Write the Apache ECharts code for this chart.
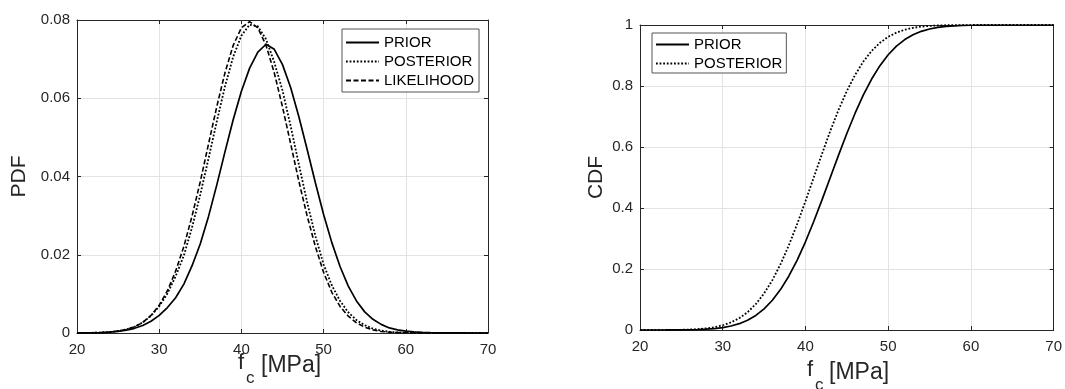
<!DOCTYPE html>
<html>
<head>
<meta charset="utf-8">
<script src="https://cdn.jsdelivr.net/npm/echarts@6/dist/echarts.min.js"></script>
<style>
  html, body { margin: 0; padding: 0; background: #fff; }
  #chart { width: 1065px; height: 389px; }
</style>
</head>
<body>
<div id="chart"></div>
<script>
// f_c values [MPa]
const fc = [20, 21, 22, 23, 24, 25, 26, 27, 28, 29, 30, 31, 32, 33, 34, 35, 36, 37, 38, 39, 40,
  41, 42, 43, 44, 45, 46, 47, 48, 49, 50, 51, 52, 53, 54, 55, 56, 57, 58, 59, 60,
  61, 62, 63, 64, 65, 66, 67, 68, 69, 70];

// PDF curves
const priorPdf = [0.00001, 0.00002, 0.00005, 0.0001, 0.0002, 0.0004, 0.0007, 0.0012, 0.0019, 0.0030, 0.0045,
  0.0065, 0.0090, 0.0125, 0.0172, 0.0228, 0.0298, 0.0378, 0.0463, 0.0545, 0.0618,
  0.0677, 0.0718, 0.0738, 0.0725, 0.0686, 0.0627, 0.0552, 0.0469, 0.0384, 0.0303,
  0.0231, 0.0170, 0.0120, 0.0082, 0.0054, 0.0035, 0.0022, 0.0013, 0.0008, 0.0005,
  0.0003, 0.00015, 0.00008, 0.00004, 0.00002, 0.00001, 0.00001, 0, 0, 0];
const posteriorPdf = [0.00001, 0.00003, 0.00006, 0.00013, 0.00026, 0.0005, 0.0009, 0.0016, 0.0027, 0.0044, 0.0068,
  0.0101, 0.0145, 0.0198, 0.0270, 0.0354, 0.0446, 0.0540, 0.0630, 0.0706, 0.0760,
  0.0788, 0.0784, 0.0751, 0.0692, 0.0620, 0.0528, 0.0430, 0.0334, 0.0248, 0.0175,
  0.0122, 0.0082, 0.0053, 0.0033, 0.0020, 0.0011, 0.0006, 0.0003, 0.00015, 0.00008,
  0.00004, 0.00002, 0.00001, 0, 0, 0, 0, 0, 0, 0];
const likelihoodPdf = [0.00001, 0.00003, 0.00006, 0.00012, 0.00025, 0.0005, 0.0009, 0.0016, 0.0027, 0.0045, 0.0071,
  0.0108, 0.0158, 0.0221, 0.0299, 0.0387, 0.0483, 0.0578, 0.0665, 0.0735, 0.0780,
  0.0796, 0.0780, 0.0735, 0.0665, 0.0578, 0.0483, 0.0387, 0.0299, 0.0221, 0.0155,
  0.0104, 0.0068, 0.0043, 0.0026, 0.0015, 0.0008, 0.0004, 0.0002, 0.0001, 0.00005,
  0.00003, 0.00001, 0, 0, 0, 0, 0, 0, 0, 0];

// CDF curves
const priorCdf = [0.00001, 0.00002, 0.00005, 0.0001, 0.0002, 0.0004, 0.0008, 0.0015, 0.0027, 0.0048, 0.0080,
  0.0132, 0.0207, 0.0322, 0.0478, 0.0693, 0.0975, 0.1333, 0.1772, 0.2294, 0.2892,
  0.3557, 0.4266, 0.5000, 0.5734, 0.6443, 0.7108, 0.7706, 0.8228, 0.8667, 0.9025,
  0.9307, 0.9522, 0.9678, 0.9793, 0.9868, 0.9920, 0.9952, 0.9973, 0.9985, 0.9992,
  0.9996, 0.9998, 0.9999, 1, 1, 1, 1, 1, 1, 1];
const posteriorCdf = [0.00002, 0.00004, 0.0001, 0.0002, 0.0004, 0.0008, 0.0016, 0.0030, 0.0054, 0.0093, 0.0155,
  0.0249, 0.0388, 0.0583, 0.0849, 0.1198, 0.1635, 0.2165, 0.2782, 0.3475, 0.4223,
  0.5000, 0.5777, 0.6525, 0.7218, 0.7835, 0.8365, 0.8802, 0.9151, 0.9417, 0.9612,
  0.9751, 0.9845, 0.9907, 0.9946, 0.9970, 0.9984, 0.9992, 0.9996, 0.9998, 0.9999,
  1, 1, 1, 1, 1, 1, 1, 1, 1, 1];

const pdfTicks = ['0', '0.02', '0.04', '0.06', '0.08'];
const cdfTicks = ['0', '0.2', '0.4', '0.6', '0.8', '1'];

const FONT = 'Liberation Sans, Arial, sans-serif';
const INK = '#262626';
const GRIDLINE = '#e3e3e3';

const pairs = (ys) => fc.map((x, i) => [x, ys[i]]);

function xAx(gridIndex, top) {
  return {
    type: 'value', gridIndex: gridIndex, min: 20, max: 70, interval: 10,
    position: top ? 'top' : 'bottom',
    axisLine: { show: true, onZero: false, lineStyle: { color: INK, width: 1 } },
    axisTick: { show: true, inside: true, length: 4, lineStyle: { color: INK } },
    axisLabel: { show: !top, color: INK, fontSize: 15, fontFamily: FONT, margin: 9 },
    splitLine: { show: !top, lineStyle: { color: GRIDLINE, width: 1 } }
  };
}

function yAx(gridIndex, right, max, interval, labels, name, gap) {
  return {
    type: 'value', gridIndex: gridIndex, min: 0, max: max, interval: interval,
    position: right ? 'right' : 'left',
    name: right ? '' : name,
    nameLocation: 'middle', nameGap: gap,
    nameTextStyle: { color: INK, fontSize: 21, fontFamily: FONT },
    axisLine: { show: true, onZero: false, lineStyle: { color: INK, width: 1 } },
    axisTick: { show: true, inside: true, length: 4, lineStyle: { color: INK } },
    axisLabel: {
      show: !right, color: INK, fontSize: 15, fontFamily: FONT, margin: 7,
      formatter: (v) => labels[Math.round(v / interval)]
    },
    splitLine: { show: !right, lineStyle: { color: GRIDLINE, width: 1 } }
  };
}

const solid = { color: '#000', width: 1.7, type: 'solid' };
const dotted = { color: '#000', width: 1.8, type: [1.8, 1.8] };
const dashed = { color: '#000', width: 1.6, type: [5, 2.5] };

function line(name, data, xi, yi, style) {
  return {
    name: name, type: 'line', xAxisIndex: xi, yAxisIndex: yi,
    data: pairs(data), showSymbol: false, symbol: 'none', smooth: false,
    lineStyle: style, itemStyle: { color: '#000' }, animation: false, z: 5
  };
}

const legendText = { color: '#000', fontSize: 15, fontFamily: FONT };

function legendBox(names, left, top, pad) {
  return {
    data: names,
    orient: 'vertical', left: left, top: top,
    itemWidth: 33, itemHeight: 15, itemGap: 4,
    padding: pad,
    itemStyle: { opacity: 0 },
    borderColor: '#555', borderWidth: 1, backgroundColor: '#fff',
    textStyle: legendText, selectedMode: false
  };
}

let myChart = echarts.init(document.getElementById('chart'));
let option = {
  backgroundColor: '#fff',
  animation: false,
  grid: [
    { left: 77, top: 20, width: 411, height: 313 },
    { left: 640, top: 25, width: 417, height: 305 }
  ],
  xAxis: [xAx(0, false), xAx(0, true), xAx(1, false), xAx(1, true)],
  yAxis: [
    yAx(0, false, 0.08, 0.02, pdfTicks, 'PDF', 47),
    yAx(0, true, 0.08, 0.02, pdfTicks, '', 0),
    yAx(1, false, 1, 0.2, cdfTicks, 'CDF', 33),
    yAx(1, true, 1, 0.2, cdfTicks, '', 0)
  ],
  legend: [
    legendBox(['PRIOR', 'POSTERIOR', 'LIKELIHOOD'], 342, 29, [6, 5, 4, 3]),
    legendBox(['PRIOR', 'POSTERIOR'], 652, 33, [4, 4, 2, 3])
  ],
  series: [
    line('PRIOR', priorPdf, 0, 0, solid),
    line('POSTERIOR', posteriorPdf, 0, 0, dotted),
    line('LIKELIHOOD', likelihoodPdf, 0, 0, dashed),
    line('PRIOR', priorCdf, 2, 2, solid),
    line('POSTERIOR', posteriorCdf, 2, 2, dotted)
  ],
  graphic: [
    // x-axis title, left panel
    { type: 'text', left: 238, top: 352, style: { text: 'f', fontSize: 22, fontFamily: FONT, fill: INK } },
    { type: 'text', left: 246, top: 370, style: { text: 'c', fontSize: 17, fontFamily: FONT, fill: INK } },
    { type: 'text', left: 261, top: 354, style: { text: '[MPa]', fontSize: 23, fontFamily: FONT, fill: INK } },
    // x-axis title, right panel
    { type: 'text', left: 807, top: 359, style: { text: 'f', fontSize: 22, fontFamily: FONT, fill: INK } },
    { type: 'text', left: 815, top: 377, style: { text: 'c', fontSize: 17, fontFamily: FONT, fill: INK } },
    { type: 'text', left: 829, top: 361, style: { text: '[MPa]', fontSize: 23, fontFamily: FONT, fill: INK } }
  ]
};
myChart.setOption(option);
window.addEventListener('resize', () => {
  myChart.resize();
});
</script>
</body>
</html>
